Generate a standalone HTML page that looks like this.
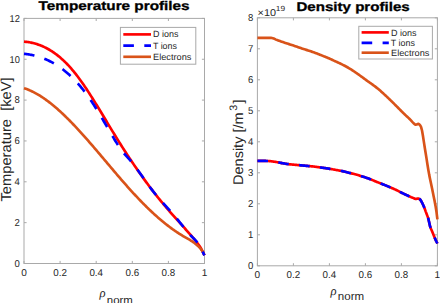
<!DOCTYPE html>
<html><head><meta charset="utf-8"><style>
html,body{margin:0;padding:0;background:#fff;width:440px;height:303px;overflow:hidden}
svg{display:block}
text{font-family:"Liberation Sans",sans-serif;fill:#262626;text-rendering:geometricPrecision}
.t{font-weight:bold;fill:#000;font-size:12.6px;stroke:#000;stroke-width:0.3px}
.tk{font-size:10px}
.lg{font-size:9px}
.yl{font-size:14.4px}
</style></head><body>
<svg width="440" height="303" viewBox="0 0 440 303">
<rect width="440" height="303" fill="#fff"/>
<!-- titles -->
<text class="t" x="38.6" y="10.3" textLength="151" lengthAdjust="spacingAndGlyphs">Temperature profiles</text>
<text class="t" x="296.4" y="10.7" textLength="113.3" lengthAdjust="spacingAndGlyphs">Density profiles</text>

<!-- LEFT AXES -->
<g fill="none" stroke="#a9a9a9" stroke-width="1.0">
<rect x="24.0" y="18.4" width="180.50" height="245.10"/>
<path d="M24.00,263.5V260.90M24.00,18.4V21.00M60.10,263.5V260.90M60.10,18.4V21.00M96.20,263.5V260.90M96.20,18.4V21.00M132.30,263.5V260.90M132.30,18.4V21.00M168.40,263.5V260.90M168.40,18.4V21.00M204.50,263.5V260.90M204.50,18.4V21.00M24.0,263.50H26.60M204.5,263.50H201.90M24.0,222.65H26.60M204.5,222.65H201.90M24.0,181.80H26.60M204.5,181.80H201.90M24.0,140.95H26.60M204.5,140.95H201.90M24.0,100.10H26.60M204.5,100.10H201.90M24.0,59.25H26.60M204.5,59.25H201.90M24.0,18.40H26.60M204.5,18.40H201.90"/>
<rect x="257.4" y="17.8" width="180.00" height="248.00"/>
<path d="M257.40,265.8V263.20M257.40,17.8V20.40M293.40,265.8V263.20M293.40,17.8V20.40M329.40,265.8V263.20M329.40,17.8V20.40M365.40,265.8V263.20M365.40,17.8V20.40M401.40,265.8V263.20M401.40,17.8V20.40M437.40,265.8V263.20M437.40,17.8V20.40M257.4,265.80H260.00M437.4,265.80H434.80M257.4,234.80H260.00M437.4,234.80H434.80M257.4,203.80H260.00M437.4,203.80H434.80M257.4,172.80H260.00M437.4,172.80H434.80M257.4,141.80H260.00M437.4,141.80H434.80M257.4,110.80H260.00M437.4,110.80H434.80M257.4,79.80H260.00M437.4,79.80H434.80M257.4,48.80H260.00M437.4,48.80H434.80M257.4,17.80H260.00M437.4,17.80H434.80"/>
</g>
<g class="tk">
<text x="24.00" y="276.1" text-anchor="middle" textLength="5.6" lengthAdjust="spacingAndGlyphs">0</text><text x="60.10" y="276.1" text-anchor="middle" textLength="13.6" lengthAdjust="spacingAndGlyphs">0.2</text><text x="96.20" y="276.1" text-anchor="middle" textLength="13.6" lengthAdjust="spacingAndGlyphs">0.4</text><text x="132.30" y="276.1" text-anchor="middle" textLength="13.6" lengthAdjust="spacingAndGlyphs">0.6</text><text x="168.40" y="276.1" text-anchor="middle" textLength="13.6" lengthAdjust="spacingAndGlyphs">0.8</text><text x="204.50" y="276.1" text-anchor="middle" textLength="5.6" lengthAdjust="spacingAndGlyphs">1</text>
<text x="19.9" y="266.80" text-anchor="end" textLength="5.3" lengthAdjust="spacingAndGlyphs">0</text><text x="19.9" y="225.95" text-anchor="end" textLength="5.3" lengthAdjust="spacingAndGlyphs">2</text><text x="19.9" y="185.10" text-anchor="end" textLength="5.3" lengthAdjust="spacingAndGlyphs">4</text><text x="19.9" y="144.25" text-anchor="end" textLength="5.3" lengthAdjust="spacingAndGlyphs">6</text><text x="19.9" y="103.40" text-anchor="end" textLength="5.3" lengthAdjust="spacingAndGlyphs">8</text><text x="19.9" y="62.55" text-anchor="end" textLength="10.3" lengthAdjust="spacingAndGlyphs">10</text><text x="19.9" y="21.70" text-anchor="end" textLength="10.3" lengthAdjust="spacingAndGlyphs">12</text>
<text x="257.40" y="278.4" text-anchor="middle" textLength="5.6" lengthAdjust="spacingAndGlyphs">0</text><text x="293.40" y="278.4" text-anchor="middle" textLength="13.6" lengthAdjust="spacingAndGlyphs">0.2</text><text x="329.40" y="278.4" text-anchor="middle" textLength="13.6" lengthAdjust="spacingAndGlyphs">0.4</text><text x="365.40" y="278.4" text-anchor="middle" textLength="13.6" lengthAdjust="spacingAndGlyphs">0.6</text><text x="401.40" y="278.4" text-anchor="middle" textLength="13.6" lengthAdjust="spacingAndGlyphs">0.8</text><text x="437.40" y="278.4" text-anchor="middle" textLength="5.6" lengthAdjust="spacingAndGlyphs">1</text>
<text x="253.2" y="269.10" text-anchor="end" textLength="5.3" lengthAdjust="spacingAndGlyphs">0</text><text x="253.2" y="238.10" text-anchor="end" textLength="5.3" lengthAdjust="spacingAndGlyphs">1</text><text x="253.2" y="207.10" text-anchor="end" textLength="5.3" lengthAdjust="spacingAndGlyphs">2</text><text x="253.2" y="176.10" text-anchor="end" textLength="5.3" lengthAdjust="spacingAndGlyphs">3</text><text x="253.2" y="145.10" text-anchor="end" textLength="5.3" lengthAdjust="spacingAndGlyphs">4</text><text x="253.2" y="114.10" text-anchor="end" textLength="5.3" lengthAdjust="spacingAndGlyphs">5</text><text x="253.2" y="83.10" text-anchor="end" textLength="5.3" lengthAdjust="spacingAndGlyphs">6</text><text x="253.2" y="52.10" text-anchor="end" textLength="5.3" lengthAdjust="spacingAndGlyphs">7</text><text x="253.2" y="21.10" text-anchor="end" textLength="5.3" lengthAdjust="spacingAndGlyphs">8</text>
</g>
<!-- exponent -->
<text class="tk" x="257.6" y="16.3" textLength="18.4" lengthAdjust="spacingAndGlyphs">&#215;10</text>
<text class="tk" x="275.8" y="10.8" style="font-size:7.4px" textLength="9.3" lengthAdjust="spacingAndGlyphs">19</text>

<!-- curves left -->
<g fill="none" stroke-width="2.65" stroke-linejoin="round">
<path d="M24.00,41.65 L24.91,41.72 L25.81,41.81 L26.72,41.91 L27.63,42.03 L28.53,42.17 L29.44,42.31 L30.35,42.48 L31.25,42.66 L32.16,42.85 L33.07,43.06 L33.97,43.29 L34.88,43.54 L35.78,43.80 L36.69,44.07 L37.60,44.37 L38.50,44.68 L39.41,45.00 L40.32,45.35 L41.22,45.71 L42.13,46.09 L43.04,46.49 L43.94,46.90 L44.85,47.33 L45.76,47.78 L46.66,48.25 L47.57,48.74 L48.48,49.25 L49.38,49.77 L50.29,50.32 L51.20,50.88 L52.10,51.47 L53.01,52.07 L53.92,52.69 L54.82,53.33 L55.73,53.99 L56.64,54.68 L57.54,55.38 L58.45,56.10 L59.35,56.84 L60.26,57.61 L61.17,58.39 L62.07,59.20 L62.98,60.03 L63.89,60.88 L64.79,61.75 L65.70,62.64 L66.61,63.55 L67.51,64.49 L68.42,65.45 L69.33,66.43 L70.23,67.43 L71.14,68.46 L72.05,69.51 L72.95,70.58 L73.86,71.67 L74.77,72.79 L75.67,73.93 L76.58,75.09 L77.49,76.27 L78.39,77.48 L79.30,78.70 L80.21,79.94 L81.11,81.20 L82.02,82.48 L82.92,83.77 L83.83,85.09 L84.74,86.41 L85.64,87.75 L86.55,89.11 L87.46,90.48 L88.36,91.86 L89.27,93.26 L90.18,94.67 L91.08,96.09 L91.99,97.52 L92.90,98.96 L93.80,100.40 L94.71,101.86 L95.62,103.33 L96.52,104.80 L97.43,106.28 L98.34,107.76 L99.24,109.25 L100.15,110.75 L101.06,112.25 L101.96,113.75 L102.87,115.26 L103.77,116.77 L104.68,118.28 L105.59,119.79 L106.49,121.30 L107.40,122.81 L108.31,124.32 L109.21,125.83 L110.12,127.33 L111.03,128.83 L111.93,130.33 L112.84,131.83 L113.75,133.31 L114.65,134.80 L115.56,136.28 L116.47,137.75 L117.37,139.21 L118.28,140.67 L119.19,142.12 L120.09,143.56 L121.00,145.00 L121.91,146.43 L122.81,147.85 L123.72,149.27 L124.63,150.68 L125.53,152.08 L126.44,153.47 L127.34,154.86 L128.25,156.24 L129.16,157.62 L130.06,158.98 L130.97,160.34 L131.88,161.70 L132.78,163.04 L133.69,164.38 L134.60,165.71 L135.50,167.04 L136.41,168.35 L137.32,169.66 L138.22,170.96 L139.13,172.26 L140.04,173.55 L140.94,174.83 L141.85,176.10 L142.76,177.37 L143.66,178.62 L144.57,179.87 L145.48,181.12 L146.38,182.35 L147.29,183.58 L148.19,184.80 L149.10,186.01 L150.01,187.22 L150.91,188.41 L151.82,189.60 L152.73,190.79 L153.63,191.96 L154.54,193.13 L155.45,194.29 L156.35,195.44 L157.26,196.58 L158.17,197.71 L159.07,198.84 L159.98,199.96 L160.89,201.07 L161.79,202.18 L162.70,203.27 L163.61,204.36 L164.51,205.44 L165.42,206.51 L166.33,207.57 L167.23,208.63 L168.14,209.68 L169.05,210.72 L169.95,211.76 L170.86,212.79 L171.76,213.82 L172.67,214.84 L173.58,215.86 L174.48,216.88 L175.39,217.89 L176.30,218.90 L177.20,219.91 L178.11,220.92 L179.02,221.92 L179.92,222.93 L180.83,223.94 L181.74,224.95 L182.64,225.95 L183.55,226.97 L184.46,227.98 L185.36,229.00 L186.27,230.02 L187.18,231.04 L188.08,232.07 L188.99,233.10 L189.90,234.14 L190.80,235.19 L191.71,236.24 L192.62,237.30 L193.52,238.37 L194.43,239.44 L195.33,240.52 L196.24,241.62 L197.15,242.75 L198.05,243.93 L198.96,245.18 L199.87,246.52 L200.77,247.97 L201.68,249.55 L202.59,251.28 L203.49,253.17 L204.40,255.26" stroke="#ff0000"/>
<path d="M24.00,88.17 L24.91,88.47 L25.81,88.78 L26.72,89.11 L27.63,89.46 L28.53,89.83 L29.44,90.21 L30.35,90.60 L31.25,91.02 L32.16,91.45 L33.07,91.89 L33.97,92.35 L34.88,92.83 L35.78,93.32 L36.69,93.82 L37.60,94.34 L38.50,94.88 L39.41,95.42 L40.32,95.99 L41.22,96.56 L42.13,97.15 L43.04,97.76 L43.94,98.38 L44.85,99.01 L45.76,99.65 L46.66,100.31 L47.57,100.98 L48.48,101.66 L49.38,102.35 L50.29,103.06 L51.20,103.77 L52.10,104.50 L53.01,105.24 L53.92,105.99 L54.82,106.76 L55.73,107.53 L56.64,108.31 L57.54,109.11 L58.45,109.91 L59.35,110.73 L60.26,111.55 L61.17,112.39 L62.07,113.23 L62.98,114.08 L63.89,114.95 L64.79,115.82 L65.70,116.70 L66.61,117.59 L67.51,118.48 L68.42,119.39 L69.33,120.30 L70.23,121.22 L71.14,122.15 L72.05,123.09 L72.95,124.03 L73.86,124.98 L74.77,125.94 L75.67,126.90 L76.58,127.87 L77.49,128.85 L78.39,129.83 L79.30,130.82 L80.21,131.81 L81.11,132.81 L82.02,133.81 L82.92,134.82 L83.83,135.84 L84.74,136.86 L85.64,137.88 L86.55,138.91 L87.46,139.94 L88.36,140.98 L89.27,142.02 L90.18,143.06 L91.08,144.10 L91.99,145.15 L92.90,146.21 L93.80,147.26 L94.71,148.32 L95.62,149.38 L96.52,150.44 L97.43,151.51 L98.34,152.58 L99.24,153.64 L100.15,154.71 L101.06,155.78 L101.96,156.86 L102.87,157.93 L103.77,159.00 L104.68,160.08 L105.59,161.15 L106.49,162.22 L107.40,163.30 L108.31,164.37 L109.21,165.44 L110.12,166.52 L111.03,167.59 L111.93,168.66 L112.84,169.73 L113.75,170.80 L114.65,171.86 L115.56,172.93 L116.47,173.99 L117.37,175.05 L118.28,176.11 L119.19,177.16 L120.09,178.22 L121.00,179.26 L121.91,180.31 L122.81,181.35 L123.72,182.39 L124.63,183.43 L125.53,184.46 L126.44,185.49 L127.34,186.51 L128.25,187.53 L129.16,188.54 L130.06,189.55 L130.97,190.56 L131.88,191.55 L132.78,192.55 L133.69,193.54 L134.60,194.52 L135.50,195.49 L136.41,196.46 L137.32,197.42 L138.22,198.38 L139.13,199.33 L140.04,200.28 L140.94,201.21 L141.85,202.14 L142.76,203.07 L143.66,203.98 L144.57,204.89 L145.48,205.80 L146.38,206.69 L147.29,207.58 L148.19,208.47 L149.10,209.34 L150.01,210.21 L150.91,211.07 L151.82,211.92 L152.73,212.76 L153.63,213.60 L154.54,214.43 L155.45,215.25 L156.35,216.06 L157.26,216.87 L158.17,217.66 L159.07,218.45 L159.98,219.23 L160.89,220.00 L161.79,220.77 L162.70,221.52 L163.61,222.27 L164.51,223.01 L165.42,223.73 L166.33,224.45 L167.23,225.16 L168.14,225.87 L169.05,226.56 L169.95,227.24 L170.86,227.91 L171.76,228.58 L172.67,229.23 L173.58,229.88 L174.48,230.52 L175.39,231.14 L176.30,231.76 L177.20,232.36 L178.11,232.96 L179.02,233.55 L179.92,234.12 L180.83,234.69 L181.74,235.24 L182.64,235.79 L183.55,236.32 L184.46,236.85 L185.36,237.36 L186.27,237.87 L187.18,238.38 L188.08,238.90 L188.99,239.42 L189.90,239.96 L190.80,240.51 L191.71,241.08 L192.62,241.68 L193.52,242.30 L194.43,242.96 L195.33,243.65 L196.24,244.39 L197.15,245.17 L198.05,246.00 L198.96,246.88 L199.87,247.84 L200.77,248.91 L201.68,250.14 L202.59,251.57 L203.49,253.24 L204.40,255.19" stroke="#d95319"/>
<path d="M24.00,53.81 L24.91,53.91 L25.81,54.02 L26.72,54.13 L27.63,54.26 L28.53,54.40 L29.44,54.55 L30.35,54.71 L31.25,54.88 L32.16,55.06 L33.07,55.26 L33.97,55.46 L34.88,55.68 L35.78,55.91 L36.69,56.16 L37.60,56.41 L38.50,56.68 L39.41,56.96 L40.32,57.26 L41.22,57.57 L42.13,57.89 L43.04,58.23 L43.94,58.58 L44.85,58.95 L45.76,59.32 L46.66,59.72 L47.57,60.13 L48.48,60.55 L49.38,60.99 L50.29,61.44 L51.20,61.91 L52.10,62.40 L53.01,62.90 L53.92,63.42 L54.82,63.95 L55.73,64.50 L56.64,65.06 L57.54,65.65 L58.45,66.25 L59.35,66.86 L60.26,67.50 L61.17,68.15 L62.07,68.82 L62.98,69.51 L63.89,70.21 L64.79,70.94 L65.70,71.68 L66.61,72.44 L67.51,73.22 L68.42,74.02 L69.33,74.84 L70.23,75.67 L71.14,76.53 L72.05,77.41 L72.95,78.30 L73.86,79.22 L74.77,80.16 L75.67,81.11 L76.58,82.09 L77.49,83.09 L78.39,84.11 L79.30,85.15 L80.21,86.22 L81.11,87.30 L82.02,88.41 L82.92,89.53 L83.83,90.68 L84.74,91.86 L85.64,93.05 L86.55,94.27 L87.46,95.51 L88.36,96.77 L89.27,98.06 L90.18,99.37 L91.08,100.70 L91.99,102.06 L92.90,103.44 L93.80,104.84 L94.71,106.26 L95.62,107.69 L96.52,109.15 L97.43,110.62 L98.34,112.10 L99.24,113.59 L100.15,115.10 L101.06,116.62 L101.96,118.14 L102.87,119.68 L103.77,121.22 L104.68,122.76 L105.59,124.31 L106.49,125.86 L107.40,127.41 L108.31,128.96 L109.21,130.51 L110.12,132.06 L111.03,133.60 L111.93,135.14 L112.84,136.67 L113.75,138.19 L114.65,139.70 L115.56,141.19 L116.47,142.65 L117.37,144.09 L118.28,145.50 L119.19,146.87 L120.09,148.21 L121.00,149.51 L121.91,150.75 L122.81,151.95 L123.72,153.09 L124.63,154.18 L125.53,155.22 L126.44,156.23 L127.34,157.22 L128.25,158.21 L129.16,159.21 L130.06,160.23 L130.97,161.29 L131.88,162.38 L132.78,163.49 L133.69,164.64 L134.60,165.81 L135.50,167.00 L136.41,168.21 L137.32,169.45 L138.22,170.69 L139.13,171.95 L140.04,173.22 L140.94,174.50 L141.85,175.78 L142.76,177.07 L143.66,178.36 L144.57,179.65 L145.48,180.94 L146.38,182.22 L147.29,183.49 L148.19,184.75 L149.10,186.00 L150.01,187.23 L150.91,188.45 L151.82,189.65 L152.73,190.83 L153.63,191.98 L154.54,193.11 L155.45,194.23 L156.35,195.33 L157.26,196.41 L158.17,197.48 L159.07,198.54 L159.98,199.58 L160.89,200.62 L161.79,201.64 L162.70,202.66 L163.61,203.68 L164.51,204.68 L165.42,205.69 L166.33,206.69 L167.23,207.69 L168.14,208.70 L169.05,209.70 L169.95,210.71 L170.86,211.73 L171.76,212.75 L172.67,213.78 L173.58,214.82 L174.48,215.87 L175.39,216.93 L176.30,218.01 L177.20,219.10 L178.11,220.21 L179.02,221.33 L179.92,222.47 L180.83,223.62 L181.74,224.78 L182.64,225.93 L183.55,227.09 L184.46,228.23 L185.36,229.36 L186.27,230.47 L187.18,231.56 L188.08,232.63 L188.99,233.66 L189.90,234.65 L190.80,235.60 L191.71,236.51 L192.62,237.40 L193.52,238.29 L194.43,239.20 L195.33,240.15 L196.24,241.17 L197.15,242.28 L198.05,243.49 L198.96,244.83 L199.87,246.31 L200.77,247.92 L201.68,249.65 L202.59,251.49 L203.49,253.43 L204.40,255.37" stroke="#0000ff" stroke-dasharray="10.6 10.4"/>
<path d="M257.40,37.90 L258.30,37.90 L259.21,37.90 L260.11,37.90 L261.02,37.90 L261.92,37.90 L262.83,37.90 L263.73,37.90 L264.64,37.90 L265.54,37.88 L266.45,37.87 L267.35,37.85 L268.25,37.83 L269.16,37.81 L270.06,37.80 L270.97,37.82 L271.87,37.97 L272.78,38.19 L273.68,38.46 L274.59,38.90 L275.49,39.36 L276.39,39.74 L277.30,40.09 L278.20,40.43 L279.11,40.76 L280.01,41.08 L280.92,41.39 L281.82,41.70 L282.73,42.01 L283.63,42.32 L284.54,42.63 L285.44,42.93 L286.34,43.23 L287.25,43.52 L288.15,43.82 L289.06,44.12 L289.96,44.42 L290.87,44.71 L291.77,45.01 L292.68,45.30 L293.58,45.60 L294.49,45.89 L295.39,46.19 L296.29,46.50 L297.20,46.81 L298.10,47.13 L299.01,47.45 L299.91,47.77 L300.82,48.09 L301.72,48.40 L302.63,48.71 L303.53,49.00 L304.44,49.29 L305.34,49.58 L306.24,49.86 L307.15,50.14 L308.05,50.43 L308.96,50.72 L309.86,51.02 L310.77,51.33 L311.67,51.63 L312.58,51.95 L313.48,52.26 L314.38,52.58 L315.29,52.91 L316.19,53.25 L317.10,53.59 L318.00,53.94 L318.91,54.30 L319.81,54.66 L320.72,55.02 L321.62,55.39 L322.53,55.75 L323.43,56.11 L324.33,56.47 L325.24,56.84 L326.14,57.20 L327.05,57.57 L327.95,57.95 L328.86,58.34 L329.76,58.73 L330.67,59.14 L331.57,59.56 L332.48,59.98 L333.38,60.41 L334.28,60.83 L335.19,61.25 L336.09,61.66 L337.00,62.07 L337.90,62.48 L338.81,62.89 L339.71,63.30 L340.62,63.72 L341.52,64.16 L342.43,64.61 L343.33,65.07 L344.23,65.53 L345.14,66.01 L346.04,66.49 L346.95,66.99 L347.85,67.50 L348.76,68.03 L349.66,68.57 L350.57,69.13 L351.47,69.70 L352.37,70.29 L353.28,70.88 L354.18,71.49 L355.09,72.09 L355.99,72.72 L356.90,73.35 L357.80,74.00 L358.71,74.65 L359.61,75.30 L360.52,75.96 L361.42,76.61 L362.32,77.27 L363.23,77.93 L364.13,78.59 L365.04,79.25 L365.94,79.92 L366.85,80.57 L367.75,81.22 L368.66,81.86 L369.56,82.49 L370.47,83.11 L371.37,83.75 L372.27,84.40 L373.18,85.07 L374.08,85.74 L374.99,86.43 L375.89,87.13 L376.80,87.84 L377.70,88.56 L378.61,89.30 L379.51,90.07 L380.42,90.85 L381.32,91.65 L382.22,92.47 L383.13,93.29 L384.03,94.12 L384.94,94.96 L385.84,95.80 L386.75,96.64 L387.65,97.50 L388.56,98.36 L389.46,99.23 L390.36,100.10 L391.27,100.98 L392.17,101.87 L393.08,102.76 L393.98,103.66 L394.89,104.57 L395.79,105.48 L396.70,106.39 L397.60,107.30 L398.51,108.21 L399.41,109.11 L400.31,110.03 L401.22,110.94 L402.12,111.86 L403.03,112.76 L403.93,113.66 L404.84,114.54 L405.74,115.40 L406.65,116.24 L407.55,117.06 L408.46,117.90 L409.36,118.76 L410.26,119.69 L411.17,120.69 L412.07,121.69 L412.98,122.62 L413.88,123.46 L414.79,124.32 L415.69,124.79 L416.60,124.57 L417.50,124.08 L418.41,123.92 L419.31,124.46 L420.21,125.42 L421.12,127.12 L422.02,130.53 L422.93,135.80 L423.83,141.64 L424.74,147.53 L425.64,153.00 L426.55,158.60 L427.45,164.47 L428.35,170.00 L429.26,175.11 L430.16,179.51 L431.07,183.69 L431.97,188.10 L432.88,192.60 L433.78,197.03 L434.69,201.39 L435.59,206.24 L436.50,211.97 L437.40,219.30" stroke="#d95319"/>
<path d="M257.40,160.90 L258.30,160.90 L259.21,160.90 L260.11,160.90 L261.02,160.90 L261.92,160.90 L262.83,160.90 L263.73,160.90 L264.64,160.90 L265.54,160.92 L266.45,160.95 L267.35,160.98 L268.25,161.02 L269.16,161.08 L270.06,161.15 L270.97,161.24 L271.87,161.34 L272.78,161.45 L273.68,161.58 L274.59,161.71 L275.49,161.86 L276.39,162.02 L277.30,162.19 L278.20,162.36 L279.11,162.54 L280.01,162.73 L280.92,162.91 L281.82,163.09 L282.73,163.26 L283.63,163.41 L284.54,163.56 L285.44,163.70 L286.34,163.84 L287.25,163.97 L288.15,164.09 L289.06,164.21 L289.96,164.31 L290.87,164.41 L291.77,164.50 L292.68,164.59 L293.58,164.68 L294.49,164.76 L295.39,164.84 L296.29,164.93 L297.20,165.01 L298.10,165.09 L299.01,165.17 L299.91,165.25 L300.82,165.33 L301.72,165.41 L302.63,165.49 L303.53,165.57 L304.44,165.65 L305.34,165.73 L306.24,165.82 L307.15,165.90 L308.05,165.99 L308.96,166.08 L309.86,166.17 L310.77,166.26 L311.67,166.35 L312.58,166.44 L313.48,166.54 L314.38,166.64 L315.29,166.74 L316.19,166.85 L317.10,166.96 L318.00,167.08 L318.91,167.20 L319.81,167.33 L320.72,167.46 L321.62,167.59 L322.53,167.72 L323.43,167.85 L324.33,167.98 L325.24,168.11 L326.14,168.25 L327.05,168.39 L327.95,168.53 L328.86,168.68 L329.76,168.83 L330.67,168.99 L331.57,169.15 L332.48,169.32 L333.38,169.49 L334.28,169.66 L335.19,169.82 L336.09,169.99 L337.00,170.15 L337.90,170.31 L338.81,170.47 L339.71,170.64 L340.62,170.81 L341.52,170.98 L342.43,171.16 L343.33,171.36 L344.23,171.56 L345.14,171.78 L346.04,172.00 L346.95,172.23 L347.85,172.46 L348.76,172.69 L349.66,172.92 L350.57,173.14 L351.47,173.37 L352.37,173.59 L353.28,173.83 L354.18,174.06 L355.09,174.30 L355.99,174.55 L356.90,174.81 L357.80,175.08 L358.71,175.35 L359.61,175.62 L360.52,175.91 L361.42,176.19 L362.32,176.48 L363.23,176.76 L364.13,177.05 L365.04,177.34 L365.94,177.64 L366.85,177.94 L367.75,178.25 L368.66,178.57 L369.56,178.91 L370.47,179.27 L371.37,179.64 L372.27,180.02 L373.18,180.40 L374.08,180.79 L374.99,181.17 L375.89,181.54 L376.80,181.90 L377.70,182.26 L378.61,182.62 L379.51,182.97 L380.42,183.33 L381.32,183.69 L382.22,184.05 L383.13,184.41 L384.03,184.78 L384.94,185.14 L385.84,185.51 L386.75,185.88 L387.65,186.25 L388.56,186.63 L389.46,187.01 L390.36,187.39 L391.27,187.78 L392.17,188.17 L393.08,188.57 L393.98,188.97 L394.89,189.38 L395.79,189.80 L396.70,190.23 L397.60,190.68 L398.51,191.13 L399.41,191.60 L400.31,192.06 L401.22,192.52 L402.12,192.97 L403.03,193.40 L403.93,193.84 L404.84,194.27 L405.74,194.70 L406.65,195.13 L407.55,195.55 L408.46,195.96 L409.36,196.36 L410.26,196.76 L411.17,197.16 L412.07,197.53 L412.98,197.89 L413.88,198.28 L414.79,198.67 L415.69,198.89 L416.60,198.81 L417.50,198.59 L418.41,198.52 L419.31,198.90 L420.21,199.59 L421.12,200.93 L422.02,202.55 L422.93,204.46 L423.83,206.44 L424.74,208.71 L425.64,211.36 L426.55,213.73 L427.45,216.11 L428.35,218.66 L429.26,222.80 L430.16,226.74 L431.07,229.01 L431.97,231.08 L432.88,233.31 L433.78,235.52 L434.69,237.71 L435.59,239.84 L436.50,241.76 L437.40,243.50" stroke="#ff0000"/>
<path d="M257.40,160.90 L258.30,160.90 L259.21,160.90 L260.11,160.90 L261.02,160.90 L261.92,160.90 L262.83,160.90 L263.73,160.90 L264.64,160.90 L265.54,160.92 L266.45,160.95 L267.35,160.98 L268.25,161.02 L269.16,161.08 L270.06,161.15 L270.97,161.24 L271.87,161.34 L272.78,161.45 L273.68,161.58 L274.59,161.71 L275.49,161.86 L276.39,162.02 L277.30,162.19 L278.20,162.36 L279.11,162.54 L280.01,162.73 L280.92,162.91 L281.82,163.09 L282.73,163.26 L283.63,163.41 L284.54,163.56 L285.44,163.70 L286.34,163.84 L287.25,163.97 L288.15,164.09 L289.06,164.21 L289.96,164.31 L290.87,164.41 L291.77,164.50 L292.68,164.59 L293.58,164.68 L294.49,164.76 L295.39,164.84 L296.29,164.93 L297.20,165.01 L298.10,165.09 L299.01,165.17 L299.91,165.25 L300.82,165.33 L301.72,165.41 L302.63,165.49 L303.53,165.57 L304.44,165.65 L305.34,165.73 L306.24,165.82 L307.15,165.90 L308.05,165.99 L308.96,166.08 L309.86,166.17 L310.77,166.26 L311.67,166.35 L312.58,166.44 L313.48,166.54 L314.38,166.64 L315.29,166.74 L316.19,166.85 L317.10,166.96 L318.00,167.08 L318.91,167.20 L319.81,167.33 L320.72,167.46 L321.62,167.59 L322.53,167.72 L323.43,167.85 L324.33,167.98 L325.24,168.11 L326.14,168.25 L327.05,168.39 L327.95,168.53 L328.86,168.68 L329.76,168.83 L330.67,168.99 L331.57,169.15 L332.48,169.32 L333.38,169.49 L334.28,169.66 L335.19,169.82 L336.09,169.99 L337.00,170.15 L337.90,170.31 L338.81,170.47 L339.71,170.64 L340.62,170.81 L341.52,170.98 L342.43,171.16 L343.33,171.36 L344.23,171.56 L345.14,171.78 L346.04,172.00 L346.95,172.23 L347.85,172.46 L348.76,172.69 L349.66,172.92 L350.57,173.14 L351.47,173.37 L352.37,173.59 L353.28,173.83 L354.18,174.06 L355.09,174.30 L355.99,174.55 L356.90,174.81 L357.80,175.08 L358.71,175.35 L359.61,175.62 L360.52,175.91 L361.42,176.19 L362.32,176.48 L363.23,176.76 L364.13,177.05 L365.04,177.34 L365.94,177.64 L366.85,177.94 L367.75,178.25 L368.66,178.57 L369.56,178.91 L370.47,179.27 L371.37,179.64 L372.27,180.02 L373.18,180.40 L374.08,180.79 L374.99,181.17 L375.89,181.54 L376.80,181.90 L377.70,182.26 L378.61,182.62 L379.51,182.97 L380.42,183.33 L381.32,183.69 L382.22,184.05 L383.13,184.41 L384.03,184.78 L384.94,185.14 L385.84,185.51 L386.75,185.88 L387.65,186.25 L388.56,186.63 L389.46,187.01 L390.36,187.39 L391.27,187.78 L392.17,188.17 L393.08,188.57 L393.98,188.97 L394.89,189.38 L395.79,189.80 L396.70,190.23 L397.60,190.68 L398.51,191.13 L399.41,191.60 L400.31,192.06 L401.22,192.52 L402.12,192.97 L403.03,193.40 L403.93,193.84 L404.84,194.27 L405.74,194.70 L406.65,195.13 L407.55,195.55 L408.46,195.96 L409.36,196.36 L410.26,196.76 L411.17,197.16 L412.07,197.53 L412.98,197.89 L413.88,198.28 L414.79,198.67 L415.69,198.89 L416.60,198.81 L417.50,198.59 L418.41,198.52 L419.31,198.90 L420.21,199.59 L421.12,200.93 L422.02,202.55 L422.93,204.46 L423.83,206.44 L424.74,208.71 L425.64,211.36 L426.55,213.73 L427.45,216.11 L428.35,218.66 L429.26,222.80 L430.16,226.74 L431.07,229.01 L431.97,231.08 L432.88,233.31 L433.78,235.52 L434.69,237.71 L435.59,239.84 L436.50,241.76 L437.40,243.50" stroke="#0000ff" stroke-dasharray="10.6 10.4"/>
</g>

<!-- legends -->
<rect x="120.4" y="27.4" width="75.4" height="36.8" fill="#fff" stroke="#a9a9a9" stroke-width="1"/>
<g stroke-width="2.65" fill="none">
<path d="M123.3,34.4H151" stroke="#ff0000"/>
<path d="M123.3,45.6H151" stroke="#0000ff" stroke-dasharray="10.6 10.4"/>
<path d="M123.3,56.8H151" stroke="#d95319"/>
</g>
<g class="lg">
<text x="153.1" y="37.4" textLength="25.4" lengthAdjust="spacingAndGlyphs">D ions</text>
<text x="152.9" y="48.8" textLength="24.1" lengthAdjust="spacingAndGlyphs">T ions</text>
<text x="153.1" y="60.0" textLength="38.3" lengthAdjust="spacingAndGlyphs">Electrons</text>
</g>
<rect x="358.8" y="26.3" width="73.6" height="32.7" fill="#fff" stroke="#a9a9a9" stroke-width="1"/>
<g stroke-width="2.65" fill="none">
<path d="M361.6,32.4H388.8" stroke="#ff0000"/>
<path d="M361.6,42.8H388.8" stroke="#0000ff" stroke-dasharray="10.6 10.4"/>
<path d="M361.6,52.7H388.8" stroke="#d95319"/>
</g>
<g class="lg">
<text x="391.0" y="35.8" textLength="25.5" lengthAdjust="spacingAndGlyphs">D ions</text>
<text x="390.8" y="45.9" textLength="24.1" lengthAdjust="spacingAndGlyphs">T ions</text>
<text x="391.0" y="56.0" textLength="38.4" lengthAdjust="spacingAndGlyphs">Electrons</text>
</g>

<!-- axis labels -->
<text class="yl" style="white-space:pre" transform="translate(10.7,201.6) rotate(-90)" textLength="124.3" lengthAdjust="spacingAndGlyphs">Temperature  [keV]</text>
<g transform="translate(243.0,185.0) rotate(-90)"><text class="yl" style="font-size:14px" x="0" y="0" textLength="72.6" lengthAdjust="spacingAndGlyphs">Density [/m</text><text class="yl" style="font-size:10.8px" x="74.2" y="-5.9">3</text><text class="yl" style="font-size:14px" x="81.6" y="0">]</text></g>

<text x="99.4" y="297.0" style="font-family:'Liberation Serif';font-style:italic;font-size:12.6px">&#961;</text>
<text x="106.8" y="303.5" style="font-size:11.4px" textLength="26.0" lengthAdjust="spacingAndGlyphs">norm</text>
<text x="330.4" y="294.6" style="font-family:'Liberation Serif';font-style:italic;font-size:12.6px">&#961;</text>
<text x="337.8" y="299.9" style="font-size:11.4px" textLength="26.3" lengthAdjust="spacingAndGlyphs">norm</text>
</svg>
</body></html>
